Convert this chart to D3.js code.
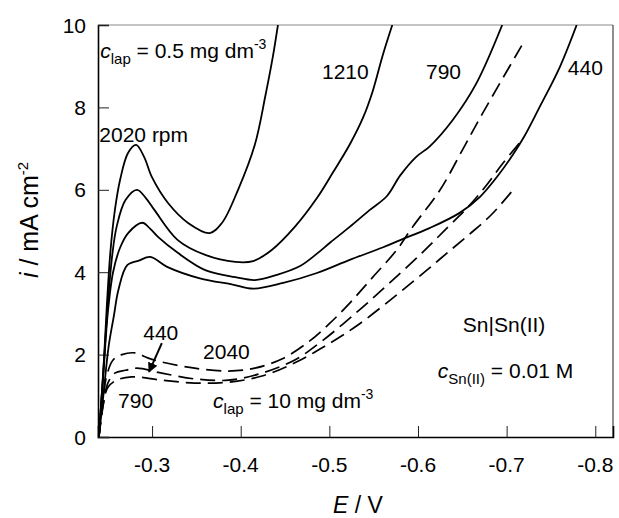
<!DOCTYPE html>
<html>
<head>
<meta charset="utf-8">
<script src="https://cdn.jsdelivr.net/npm/d3@7/dist/d3.min.js"></script>
<style>
  body { margin: 0; background: #fff; }
  text { font-family: "Liberation Sans", Arial, sans-serif; fill: #000; }
</style>
</head>
<body>
<script>
// E / V (x) and i / mA cm^-2 (y)
// solid lines: c_lap = 0.5 mg dm^-3, dashed lines: c_lap = 10 mg dm^-3
var s2020 = [[-0.240,0],[-0.245,1.6],[-0.249,3.2],[-0.253,4.5],[-0.258,5.5],[-0.264,6.25],[-0.273,6.9],[-0.282,7.09],[-0.291,6.8],[-0.300,6.3],[-0.318,5.68],[-0.341,5.19],[-0.365,4.95],[-0.379,5.2],[-0.397,6.0],[-0.416,7.1],[-0.428,8.3],[-0.436,9.2],[-0.442,10]];
var s1210 = [[-0.240,0],[-0.245,1.6],[-0.250,3.2],[-0.255,4.4],[-0.260,5.1],[-0.270,5.75],[-0.283,6.0],[-0.293,5.8],[-0.303,5.5],[-0.329,4.78],[-0.360,4.42],[-0.394,4.25],[-0.414,4.27],[-0.435,4.54],[-0.461,5.1],[-0.486,5.8],[-0.504,6.42],[-0.523,7.1],[-0.538,7.75],[-0.549,8.4],[-0.560,9.25],[-0.571,10]];
var s790 = [[-0.240,0],[-0.245,1.5],[-0.250,3.0],[-0.256,4.0],[-0.264,4.6],[-0.273,4.95],[-0.289,5.2],[-0.298,5.05],[-0.307,4.85],[-0.329,4.47],[-0.360,4.05],[-0.394,3.88],[-0.416,3.81],[-0.440,3.93],[-0.467,4.15],[-0.486,4.45],[-0.501,4.72],[-0.523,5.1],[-0.545,5.5],[-0.565,5.85],[-0.580,6.35],[-0.598,6.8],[-0.613,7.05],[-0.639,7.69],[-0.666,8.59],[-0.695,10]];
var s440 = [[-0.240,0],[-0.245,1.0],[-0.251,2.2],[-0.257,2.95],[-0.262,3.57],[-0.272,4.17],[-0.285,4.28],[-0.298,4.37],[-0.317,4.13],[-0.354,3.85],[-0.391,3.7],[-0.414,3.6],[-0.448,3.74],[-0.486,3.98],[-0.523,4.3],[-0.560,4.6],[-0.580,4.78],[-0.613,5.07],[-0.647,5.44],[-0.670,5.83],[-0.689,6.31],[-0.707,6.85],[-0.720,7.3],[-0.737,8.0],[-0.760,8.98],[-0.779,10]];
var d2040 = [[-0.240,0],[-0.244,0.8],[-0.249,1.5],[-0.256,1.87],[-0.266,2.0],[-0.281,2.04],[-0.295,1.92],[-0.311,1.82],[-0.348,1.67],[-0.386,1.6],[-0.416,1.67],[-0.447,1.9],[-0.476,2.3],[-0.500,2.75],[-0.523,3.25],[-0.549,3.88],[-0.576,4.54],[-0.594,5.1],[-0.625,6.0],[-0.651,7.0],[-0.673,7.86],[-0.717,9.5]];
var d440 = [[-0.240,0],[-0.245,0.8],[-0.250,1.3],[-0.258,1.55],[-0.270,1.62],[-0.283,1.67],[-0.311,1.55],[-0.348,1.41],[-0.386,1.38],[-0.424,1.55],[-0.461,1.87],[-0.490,2.3],[-0.531,3.03],[-0.568,3.74],[-0.606,4.5],[-0.634,5.1],[-0.655,5.55],[-0.675,6.05],[-0.696,6.65],[-0.717,7.2]];
var d790 = [[-0.240,0],[-0.245,0.8],[-0.250,1.2],[-0.260,1.38],[-0.277,1.46],[-0.311,1.38],[-0.348,1.31],[-0.386,1.33],[-0.424,1.48],[-0.461,1.8],[-0.493,2.18],[-0.531,2.7],[-0.576,3.45],[-0.610,4.05],[-0.633,4.47],[-0.658,4.92],[-0.683,5.4],[-0.709,6.04]];

var solidCurves = [s2020, s1210, s790, s440];
var dashedCurves = [d2040, d440, d790];

var xTicks = [-0.3, -0.4, -0.5, -0.6, -0.7, -0.8];
var yTicks = [0, 2, 4, 6, 8, 10];

var width = 619, height = 518;
var margin = {left: 98, right: 6, top: 25, bottom: 81};

var svg = d3.select("body").append("svg").attr("width", width).attr("height", height);

var x = d3.scaleLinear().domain([-0.239, -0.820]).range([margin.left, width - margin.right]);
var y = d3.scaleLinear().domain([0, 10]).range([height - margin.bottom, margin.top]);

svg.append("clipPath").attr("id", "plot").append("rect")
  .attr("x", x.range()[0]).attr("y", y.range()[1])
  .attr("width", x.range()[1] - x.range()[0]).attr("height", y.range()[0] - y.range()[1]);

// frame
svg.append("line").attr("x1", x.range()[0]).attr("x2", x.range()[1]).attr("y1", y(10)).attr("y2", y(10)).attr("stroke", "#888").attr("stroke-width", 1);
svg.append("line").attr("x1", x.range()[1]).attr("x2", x.range()[1]).attr("y1", y(0)).attr("y2", y(10)).attr("stroke", "#444").attr("stroke-width", 1.2);

// axes with inward ticks
var xAxis = svg.append("g").attr("transform", "translate(0," + y(0) + ")")
  .call(d3.axisTop(x).tickValues(xTicks).tickSize(11).tickFormat(""));
var yAxis = svg.append("g").attr("transform", "translate(" + x.range()[0] + ",0)")
  .call(d3.axisRight(y).tickValues(yTicks).tickSize(11).tickFormat(""));
[xAxis, yAxis].forEach(function (a) {
  a.select(".domain").attr("stroke", "#000").attr("stroke-width", 1.6);
  a.selectAll(".tick line").attr("stroke", "#222").attr("stroke-width", 1);
});

svg.selectAll("text.xlab").data(xTicks).enter().append("text")
  .attr("class", "xlab").attr("x", function (d) { return x(d); }).attr("y", 472)
  .attr("text-anchor", "middle").style("font-size", "21px")
  .text(function (d) { return d.toFixed(1); });
svg.selectAll("text.ylab").data(yTicks).enter().append("text")
  .attr("class", "ylab").attr("x", 86).attr("y", function (d) { return y(d) + 7.5; })
  .attr("text-anchor", "end").style("font-size", "21px")
  .text(function (d) { return d; });

// axis titles
var xt = svg.append("text").attr("x", 358).attr("y", 513).attr("text-anchor", "middle").style("font-size", "23px");
xt.append("tspan").style("font-style", "italic").text("E");
xt.append("tspan").text(" / V");

var yt = svg.append("text").attr("transform", "translate(38,220) rotate(-90)").attr("text-anchor", "middle").style("font-size", "25px");
yt.append("tspan").style("font-style", "italic").text("i");
yt.append("tspan").text(" / mA cm");
yt.append("tspan").attr("dy", -10).style("font-size", "15px").text("-2");

// curves
var line = d3.line().x(function (d) { return x(d[0]); }).y(function (d) { return y(d[1]); })
  .curve(d3.curveCatmullRom.alpha(0.5));
var plot = svg.append("g").attr("clip-path", "url(#plot)");
plot.selectAll("path.solid").data(solidCurves).enter().append("path")
  .attr("class", "solid").attr("d", line).attr("fill", "none")
  .attr("stroke", "#000").attr("stroke-width", 1.8);
plot.selectAll("path.dashed").data(dashedCurves).enter().append("path")
  .attr("class", "dashed").attr("d", line).attr("fill", "none")
  .attr("stroke", "#000").attr("stroke-width", 1.7).attr("stroke-dasharray", "15,7");

// annotations (positions in data units)
function label(e, i, parts) {
  var t = svg.append("text").attr("x", x(e)).attr("y", y(i)).style("font-size", "21px");
  parts.forEach(function (p) {
    var s = t.append("tspan").text(p.t);
    if (p.it) s.style("font-style", "italic");
    if (p.sub) s.attr("dy", p.sub).style("font-size", "15px");
    if (p.sup) s.attr("dy", p.sup).style("font-size", "14px");
    if (p.dy) s.attr("dy", p.dy);
  });
}
label(-0.2415, 9.2, [{t: "c", it: true}, {t: "lap", sub: 6}, {t: " = 0.5 mg dm", dy: -6}, {t: "-3", sup: -9}]);
label(-0.2405, 7.15, [{t: "2020 rpm"}]);
label(-0.4917, 8.69, [{t: "1210"}]);
label(-0.609, 8.69, [{t: "790"}]);
label(-0.769, 8.79, [{t: "440"}]);
label(-0.290, 2.35, [{t: "440"}]);
label(-0.3575, 1.89, [{t: "2040"}]);
label(-0.2617, 0.70, [{t: "790"}]);
label(-0.3688, 0.70, [{t: "c", it: true}, {t: "lap", sub: 6}, {t: " = 10 mg dm", dy: -6}, {t: "-3", sup: -9}]);
label(-0.6506, 2.55, [{t: "Sn|Sn(II)"}]);
label(-0.6224, 1.43, [{t: "c", it: true}, {t: "Sn(II)", sub: 6}, {t: " = 0.01 M", dy: -6}]);

// arrow to the 440 dashed curve
svg.append("defs").append("marker").attr("id", "head").attr("viewBox", "0 0 10 10")
  .attr("refX", 9).attr("refY", 5).attr("markerWidth", 5).attr("markerHeight", 5)
  .attr("orient", "auto").append("path").attr("d", "M0,0L10,5L0,10z").attr("fill", "#000");
svg.append("line").attr("x1", x(-0.311)).attr("y1", y(2.28)).attr("x2", x(-0.2966)).attr("y2", y(1.58))
  .attr("stroke", "#000").attr("stroke-width", 2).attr("marker-end", "url(#head)");
</script>
</body>
</html>
